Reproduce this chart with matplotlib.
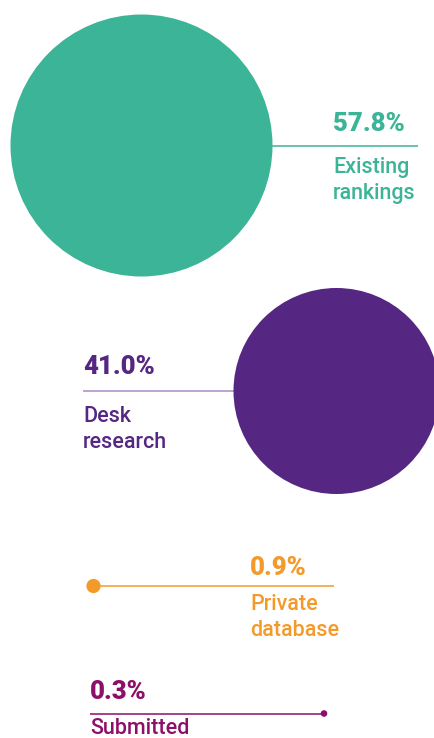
import matplotlib
matplotlib.use("Agg")
import matplotlib.pyplot as plt
from matplotlib.patches import Circle

# Share of sources used, by source type
categories = ["Existing\nrankings", "Desk\nresearch", "Private\ndatabase", "Submitted"]
values = [57.8, 41.0, 0.9, 0.3]
colors = ["#3CB497", "#552782", "#F39A2B", "#8D1068"]
line_colors = ["#3CB497", "#A88CC8", "#F39A2B", "#8D1068"]

W, H = 434, 738
R_MAX = 131.0          # radius of the largest bubble, px
EXPONENT = 0.7         # bubble radius scale exponent

# Layout per row: bubble centre, connector end, text anchor, side of the bubble
layout = [
    dict(cx=141.5, cy=145.5, side="right", line_end=418, tx=333, pct_base=131, lbl_base=172.5),
    dict(cx=336.5, cy=391.0, side="left", line_end=83, tx=83, pct_base=374, lbl_base=421.5),
    dict(cx=93.5, cy=586.0, side="right", line_end=334, tx=250, pct_base=575, lbl_base=610.5),
    dict(cx=324.0, cy=713.5, side="left", line_end=90, tx=90, pct_base=699, lbl_base=733.5),
]
LINE_STEP = 26.0

plt.rcParams["font.family"] = ["Roboto", "DejaVu Sans"]

fig = plt.figure(figsize=(W / 100, H / 100), dpi=100)
ax = fig.add_axes([0, 0, 1, 1])
ax.set_xlim(0, W)
ax.set_ylim(H, 0)
ax.set_axis_off()

vmax = max(values)
for cat, val, col, lcol, lay in zip(categories, values, colors, line_colors, layout):
    r = R_MAX * (val / vmax) ** EXPONENT
    cx, cy = lay["cx"], lay["cy"]
    if lay["side"] == "right":
        x0, x1 = cx + r * 0.98, lay["line_end"]
    else:
        x0, x1 = lay["line_end"], cx - r * 0.98
    ax.plot([x0, x1], [cy, cy], color=lcol, lw=1.1, solid_capstyle="butt", zorder=1)
    ax.add_patch(Circle((cx, cy), r, facecolor=col, edgecolor="none", zorder=2))

    ax.text(lay["tx"], lay["pct_base"], f"{val:.1f}%", color=col, fontsize=18.5,
            fontweight="black", ha="left", va="baseline")
    for i, line in enumerate(cat.split("\n")):
        ax.text(lay["tx"], lay["lbl_base"] + i * LINE_STEP, line, color=col,
                fontsize=15.5, fontweight="medium", ha="left", va="baseline")

fig.savefig("out.png", dpi=100)
